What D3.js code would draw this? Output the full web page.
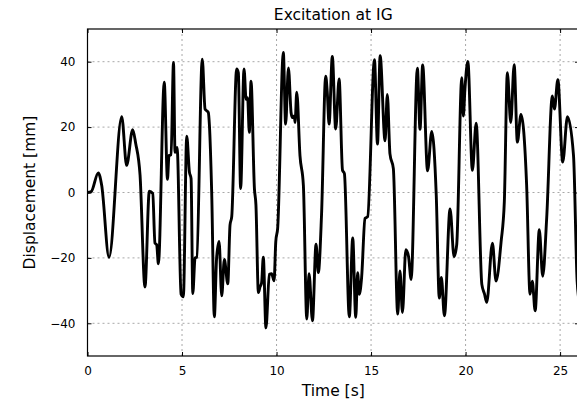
<!DOCTYPE html>
<html>
<head>
<meta charset="utf-8">
<script src="https://cdn.jsdelivr.net/npm/d3@7"></script>
<style>
  body { margin: 0; background: #fff; }
  svg { display: block; font-family: "DejaVu Sans", sans-serif; }
</style>
</head>
<body>
<div id="chart"></div>
<script>
// time [s] and displacement [mm]
var times = [0, 0.2, 0.57, 0.75, 1.14, 1.81, 2.07, 2.39, 2.55, 2.78, 3.04, 3.27, 3.45, 3.57, 3.66, 3.75,
  4.06, 4.23, 4.31, 4.42, 4.55, 4.63, 4.74, 4.95, 5.07, 5.25, 5.39, 5.48, 5.57, 5.69, 5.78,
  6.07, 6.22, 6.39, 6.45, 6.57, 6.71, 6.83, 6.96, 7.1, 7.24, 7.42, 7.54, 7.63, 7.89, 7.98,
  8.1, 8.28, 8.39, 8.47, 8.56, 8.65, 8.83, 8.91, 9.04, 9.12, 9.21, 9.3, 9.44, 9.62, 9.74, 9.87,
  9.96, 10.06, 10.36, 10.48, 10.63, 10.77, 10.84, 10.94, 10.98, 11.07, 11.24, 11.42, 11.6, 11.72,
  11.9, 12.09, 12.21, 12.38, 12.6, 12.68, 12.78, 12.95, 13.13, 13.31, 13.49, 13.59, 13.85, 14.03,
  14.19, 14.29, 14.38, 14.5, 14.68, 14.82, 15.18, 15.34, 15.48, 15.74, 15.86, 16.0, 16.18, 16.41,
  16.53, 16.66, 16.84, 16.98, 17.12, 17.45, 17.59, 17.73, 17.99, 18.21, 18.45, 18.61, 18.72, 18.88,
  19.18, 19.39, 19.53, 19.8, 19.88, 19.97, 20.12, 20.36, 20.56, 20.86, 21.0, 21.12, 21.42, 21.61,
  21.88, 22.05, 22.21, 22.39, 22.57, 22.74, 22.93, 23.23, 23.41, 23.53, 23.68, 23.9, 24.08, 24.29,
  24.59, 24.7, 24.88, 25.14, 25.39, 25.71, 25.9, 26.0];
var displacement = [0, 0.3, 6, 2.2, -19.8, 23.2, 8.3, 19.2, 15, 5.3, -28.9, 0.4, -0.3, -15.5, -16, -21.8,
  33.7, 4, 11.3, 11.5, 39.8, 12.3, 13.8, -31.1, -31.9, 17.2, 6.3, 4.2, -30.9, -20, -19.8,
  40.8, 25.5, 24.5, 20.5, 0, -38, -20, -15, -31.6, -20.5, -27.9, -9.9, -7.4, 37.8, 36.6,
  1.2, 37.8, 28.5, 29, 18.4, 34, 1.2, -3.8, -30.6, -29, -27.6, -19.8, -41.4, -25, -24.8, -27,
  -15, -10.9, 42.8, 20.9, 38.1, 24.4, 22.9, 23.4, 21.4, 30.7, 11.3, 2.2, -38.7, -24.8,
  -39.2, -15.8, -24.5, -6.9, 35.6, 31, 20.9, 41.6, 19.4, 34.7, 6.8, 5.8, -38, -13.9,
  -38.2, -24.5, -31.1, -26, -7.9, -7.4, 40.6, 14.8, 41.8, 15.8, 30, 11.8, 7.3, -37.2,
  -24, -36.7, -17.5, -19.5, -26.6, 38, 19.3, 39, 6.6, 18.7, -1, -32.3, -26, -37.7,
  -5, -19.6, -16, 35.1, 23.4, 32, 40.1, 6.8, 21.2, -28.1, -31, -33.6, -15.5, -27.1,
  -15, -2.8, 36.6, 21.4, 39.1, 15.4, 23.9, 2.2, -31.1, -27.1, -36.2, -11.4, -25.6, -7.9,
  29.5, 25.5, 34.5, 9.3, 23.2, 11.3, -27, -33];
var xTicks = [0, 5, 10, 15, 20, 25];
var yTicks = [-40, -20, 0, 20, 40];

var opt = {
  width: 577, height: 402,
  margin: {top: 29, right: -2, bottom: 46, left: 87.5}
};
opt.inWidth = opt.width - opt.margin.left - opt.margin.right;
opt.inHeight = opt.height - opt.margin.top - opt.margin.bottom;

var points = times.map(function(t, i) { return {t: t, y: displacement[i]}; });

var x = d3.scaleLinear().domain([0, 26]).range([0, opt.inWidth]);
var y = d3.scaleLinear().domain([-50, 50]).range([opt.inHeight, 0]);

var svg = d3.select("#chart").append("svg")
  .attr("width", opt.width)
  .attr("height", opt.height);

var g = svg.append("g")
  .attr("transform", "translate(" + opt.margin.left + "," + opt.margin.top + ")");

svg.append("defs").append("clipPath").attr("id", "clip")
  .append("rect").attr("width", opt.inWidth).attr("height", opt.inHeight);

// grid
g.append("g").selectAll("line").data(xTicks.slice(1)).enter().append("line")
  .attr("x1", d => x(d)).attr("x2", d => x(d))
  .attr("y1", 0).attr("y2", opt.inHeight)
  .style("stroke", "#a8a8a8").style("stroke-width", 1).style("stroke-dasharray", "2,3");
g.append("g").selectAll("line").data(yTicks).enter().append("line")
  .attr("y1", d => y(d)).attr("y2", d => y(d))
  .attr("x1", 0).attr("x2", opt.inWidth)
  .style("stroke", "#a8a8a8").style("stroke-width", 1).style("stroke-dasharray", "2,3");

// the series
var line = d3.line().x(d => x(d.t)).y(d => y(d.y)).curve(d3.curveMonotoneX);
g.append("path").datum(points)
  .attr("clip-path", "url(#clip)")
  .attr("d", line)
  .style("fill", "none")
  .style("stroke", "#000")
  .style("stroke-width", 2.9)
  .style("stroke-linejoin", "round");

// axes, ticks inside on all four sides
function fmt(d) { return d < 0 ? "\u2212" + Math.abs(d) : String(d); }
var axB = g.append("g").attr("transform", "translate(0," + opt.inHeight + ")")
  .call(d3.axisBottom(x).tickValues(xTicks).tickSizeInner(-4).tickSizeOuter(0).tickPadding(10).tickFormat(fmt));
var axT = g.append("g")
  .call(d3.axisTop(x).tickValues(xTicks).tickSizeInner(-4).tickSizeOuter(0).tickFormat(""));
var axL = g.append("g")
  .call(d3.axisLeft(y).tickValues(yTicks).tickSizeInner(-4).tickSizeOuter(0).tickPadding(12).tickFormat(fmt));
var axR = g.append("g").attr("transform", "translate(" + opt.inWidth + ",0)")
  .call(d3.axisRight(y).tickValues(yTicks).tickSizeInner(-4).tickSizeOuter(0).tickFormat(""));

[axB, axT, axL, axR].forEach(function(a) {
  a.select(".domain").remove();
  a.selectAll(".tick line").style("stroke", "#000").style("stroke-width", 1);
  a.selectAll("text").style("font-family", "DejaVu Sans").style("font-size", "12px").style("fill", "#000");
});

g.append("rect")
  .attr("width", opt.inWidth).attr("height", opt.inHeight)
  .style("fill", "none").style("stroke", "#000").style("stroke-width", 1.2);

// labels
svg.append("text")
  .attr("x", opt.margin.left + opt.inWidth / 2).attr("y", 20)
  .attr("text-anchor", "middle")
  .style("font-size", "15.5px")
  .text("Excitation at IG");
svg.append("text")
  .attr("x", opt.margin.left + opt.inWidth / 2).attr("y", 396)
  .attr("text-anchor", "middle")
  .style("font-size", "15.5px")
  .text("Time [s]");
svg.append("text")
  .attr("transform", "translate(35," + (opt.margin.top + opt.inHeight / 2) + ") rotate(-90)")
  .attr("text-anchor", "middle")
  .style("font-size", "15.5px")
  .text("Displacement [mm]");
</script>
</body>
</html>
